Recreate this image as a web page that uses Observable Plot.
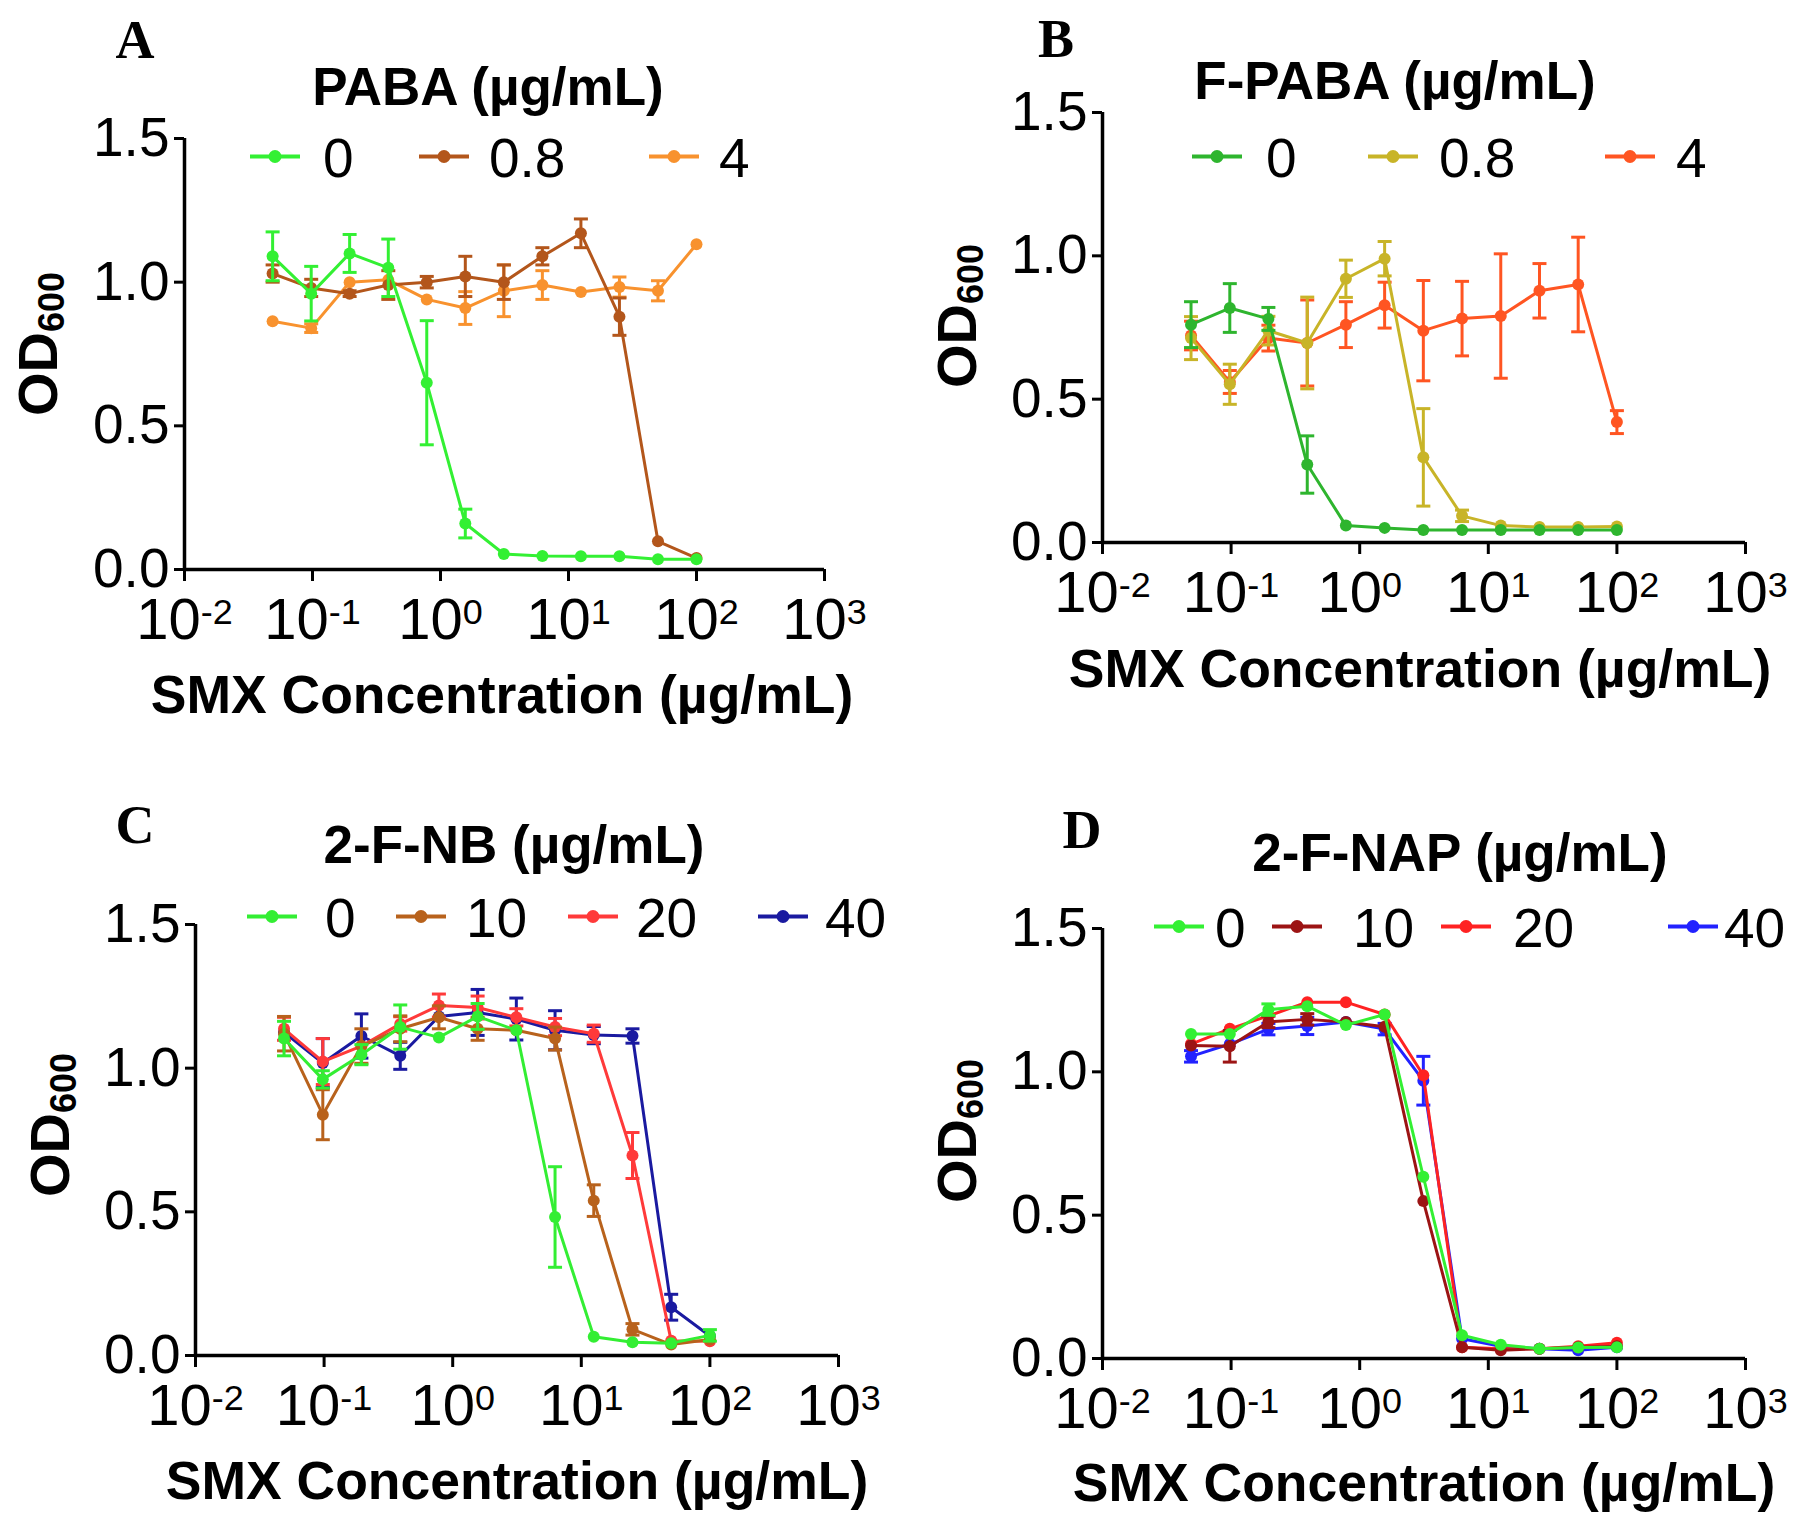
<!DOCTYPE html>
<html><head><meta charset="utf-8">
<script src="https://cdn.jsdelivr.net/npm/d3@7"></script>
<script src="https://cdn.jsdelivr.net/npm/@observablehq/plot@0.6"></script>
<style>
body{margin:0;background:#fff;}
#fig{position:relative;width:1800px;height:1529px;background:#fff;overflow:hidden;font-family:"Liberation Sans",Arial,sans-serif;color:#000;}
.abs{position:absolute;white-space:nowrap;line-height:1;}
.title{font-weight:bold;font-size:53px;transform:translate(-50%,-50%);}
.xlab{font-weight:bold;font-size:53.5px;transform:translate(-50%,-50%);}
.letter{font-family:"Liberation Serif","Times New Roman",serif;font-weight:bold;font-size:54px;transform:translate(-50%,-50%);}
.ylab{font-weight:bold;font-size:56px;transform:translate(-50%,-50%) rotate(-90deg);}
.ylab sub{font-size:36px;vertical-align:-0.2em;}
.legtext{font-size:55px;transform:translateY(-50%);}
.swatch{transform:translateY(-50%);}
</style></head><body><div id="fig"></div>
<script>
// SMX concentrations (µg/mL), two-fold dilutions
const smx = [0.0488, 0.0977, 0.195, 0.391, 0.781, 1.5625, 3.125, 6.25, 12.5, 25, 50, 100];

// Panel A: PABA (µg/mL)
const pabaLevels = ["0", "0.8", "4"];
const pabaColors = ["#33f033", "#b3561b", "#f8922e"];
const paba0 = [1.09, 0.96, 1.10, 1.05, 0.65, 0.16, 0.054, 0.047, 0.046, 0.046, 0.036, 0.036];
const paba0Err = [0.085, 0.095, 0.066, 0.10, 0.216, 0.05, 0, 0, 0, 0, 0, 0];
const paba08 = [1.03, 0.98, 0.96, 0.99, 1.0, 1.02, 1.0, 1.09, 1.17, 0.88, 0.098, 0.04];
const paba08Err = [0.03, 0.03, 0.01, 0.05, 0.02, 0.07, 0.06, 0.03, 0.05, 0.065, 0, 0];
const paba4 = [0.864, 0.84, 1.0, 1.008, 0.94, 0.91, 0.97, 0.99, 0.966, 0.983, 0.97, 1.132];
const paba4Err = [0, 0.015, 0, 0, 0, 0.057, 0.09, 0.05, 0, 0.035, 0.035, 0];

// Panel B: F-PABA (µg/mL)
const fpabaLevels = ["0", "0.8", "4"];
const fpabaColors = ["#2eb52e", "#c8b428", "#ff5522"];
const fpaba0 = [0.76, 0.818, 0.78, 0.272, 0.059, 0.051, 0.044, 0.044, 0.044, 0.044, 0.044, 0.044];
const fpaba0Err = [0.08, 0.085, 0.04, 0.10, 0, 0, 0, 0, 0, 0, 0, 0];
const fpaba08 = [0.713, 0.552, 0.739, 0.696, 0.92, 0.99, 0.297, 0.093, 0.059, 0.054, 0.054, 0.056];
const fpaba08Err = [0.075, 0.07, 0.05, 0.16, 0.065, 0.06, 0.17, 0.02, 0, 0, 0, 0];
const fpaba4 = [0.722, 0.56, 0.713, 0.696, 0.76, 0.828, 0.739, 0.781, 0.79, 0.878, 0.90, 0.42];
const fpaba4Err = [0.05, 0.04, 0.045, 0.15, 0.08, 0.08, 0.175, 0.13, 0.217, 0.095, 0.165, 0.04];

// Panel C: 2-F-NB (µg/mL)
const fnbLevels = ["0", "10", "20", "40"];
const fnbColors = ["#33ee33", "#b8621c", "#ff3a3a", "#1a1aa0"];
const fnb0 = [1.103, 0.961, 1.047, 1.143, 1.107, 1.18, 1.132, 0.482, 0.065, 0.046, 0.043, 0.07];
const fnb0Err = [0.06, 0.03, 0.035, 0.077, 0, 0.045, 0, 0.175, 0, 0, 0, 0.02];
const fnb10 = [1.12, 0.838, 1.077, 1.137, 1.177, 1.137, 1.132, 1.103, 0.539, 0.091, 0.038, 0.056];
const fnb10Err = [0.06, 0.087, 0.06, 0.045, 0.04, 0.04, 0, 0.04, 0.055, 0.02, 0, 0];
const fnb20 = [1.137, 1.023, 1.077, 1.154, 1.218, 1.211, 1.177, 1.143, 1.12, 0.696, 0.051, 0.05];
const fnb20Err = [0.04, 0.08, 0, 0.025, 0.04, 0.04, 0.03, 0.03, 0.03, 0.08, 0, 0];
const fnb40 = [1.125, 1.018, 1.112, 1.043, 1.18, 1.194, 1.171, 1.132, 1.115, 1.112, 0.168, 0.068];
const fnb40Err = [0, 0.085, 0.077, 0.047, 0, 0.08, 0.073, 0.068, 0.03, 0.025, 0.045, 0];

// Panel D: 2-F-NAP (µg/mL)
const fnapLevels = ["0", "10", "20", "40"];
const fnapColors = ["#33f033", "#9c1414", "#ff2222", "#2222ff"];
const fnap0 = [1.132, 1.132, 1.217, 1.229, 1.163, 1.2, 0.634, 0.081, 0.048, 0.034, 0.038, 0.039];
const fnap0Err = [0, 0, 0.02, 0, 0, 0, 0, 0, 0, 0, 0, 0];
const fnap10 = [1.092, 1.089, 1.174, 1.183, 1.174, 1.157, 0.549, 0.039, 0.029, 0.034, 0.039, 0.043];
const fnap10Err = [0, 0.055, 0.02, 0.02, 0, 0, 0, 0, 0, 0, 0, 0];
const fnap20 = [1.097, 1.15, 1.195, 1.243, 1.243, 1.2, 0.988, 0.039, 0.034, 0.034, 0.043, 0.055];
const fnap20Err = [0, 0, 0, 0, 0, 0, 0, 0, 0, 0, 0, 0];
const fnap40 = [1.054, 1.097, 1.149, 1.16, 1.174, 1.149, 0.969, 0.069, 0.043, 0.034, 0.029, 0.039];
const fnap40Err = [0.02, 0, 0.02, 0.03, 0, 0.02, 0.085, 0, 0, 0, 0, 0];

const xTicks = [0.01, 0.1, 1, 10, 100, 1000];
const yTicks = [0, 0.5, 1.0, 1.5];

const panels = [
  {letter: "A", title: "PABA (µg/mL)", levels: pabaLevels, colors: pabaColors,
   vals: [paba0, paba08, paba4], errs: [paba0Err, paba08Err, paba4Err],
   x0: 184, x1: 824, yTop: 138, yBot: 569,
   titlePos: [488, 86], letterPos: [135, 40], ylabPos: [40, 344], xlabPos: [502, 695],
   legendY: 158, legend: [[250, 323], [419, 489], [649, 719]]},
  {letter: "B", title: "F-PABA (µg/mL)", levels: fpabaLevels, colors: fpabaColors,
   vals: [fpaba0, fpaba08, fpaba4], errs: [fpaba0Err, fpaba08Err, fpaba4Err],
   x0: 1102, x1: 1745, yTop: 112, yBot: 542,
   titlePos: [1395, 80], letterPos: [1056, 39], ylabPos: [959, 316], xlabPos: [1420, 669],
   legendY: 158, legend: [[1192, 1266], [1368, 1439], [1605, 1676]]},
  {letter: "C", title: "2-F-NB (µg/mL)", levels: fnbLevels, colors: fnbColors,
   vals: [fnb0, fnb10, fnb20, fnb40], errs: [fnb0Err, fnb10Err, fnb20Err, fnb40Err],
   x0: 195, x1: 838, yTop: 924, yBot: 1355,
   titlePos: [514, 844], letterPos: [135, 825], ylabPos: [52, 1125], xlabPos: [517, 1481],
   legendY: 918, legend: [[247, 325], [396, 466], [568, 636], [758, 825]]},
  {letter: "D", title: "2-F-NAP (µg/mL)", levels: fnapLevels, colors: fnapColors,
   vals: [fnap0, fnap10, fnap20, fnap40], errs: [fnap0Err, fnap10Err, fnap20Err, fnap40Err],
   x0: 1102, x1: 1745, yTop: 928, yBot: 1358,
   titlePos: [1460, 852], letterPos: [1082, 830], ylabPos: [959, 1131], xlabPos: [1424, 1483],
   legendY: 928, legend: [[1154, 1215], [1272, 1353], [1441, 1513], [1668, 1724]]}
];

const capSymbol = {draw(ctx, size) { const r = Math.sqrt(size / Math.PI); ctx.moveTo(-r, 0); ctx.lineTo(r, 0); }};

const fig = document.getElementById("fig");
function addDiv(cls, html, x, y) {
  const d = document.createElement("div");
  d.className = "abs " + cls;
  d.innerHTML = html;
  d.style.left = x + "px";
  d.style.top = y + "px";
  fig.appendChild(d);
  return d;
}

const ml = 170, mr = 80, mt = 30, mb = 120;

for (const p of panels) {
  const marks = [];
  // draw later series first so the first series ends on top
  for (let k = p.levels.length - 1; k >= 0; k--) {
    const rows = smx.map((x, i) => ({x, y: p.vals[k][i], e: p.errs[k][i]}));
    const withErr = rows.filter(d => d.e > 0);
    const c = p.colors[k];
    marks.push(
      Plot.ruleX(withErr, {x: "x", y1: d => d.y - d.e, y2: d => d.y + d.e, stroke: c, strokeWidth: 3}),
      Plot.dot(withErr, {x: "x", y: d => d.y + d.e, symbol: capSymbol, r: 7, stroke: c, strokeWidth: 3, fill: "none"}),
      Plot.dot(withErr, {x: "x", y: d => d.y - d.e, symbol: capSymbol, r: 7, stroke: c, strokeWidth: 3, fill: "none"}),
      Plot.line(rows, {x: "x", y: "y", stroke: c, strokeWidth: 3}),
      Plot.dot(rows, {x: "x", y: "y", fill: c, r: 6})
    );
  }
  marks.push(
    Plot.ruleX([0.01], {stroke: "#000", strokeWidth: 3.5}),
    Plot.ruleY([0], {stroke: "#000", strokeWidth: 3.5}),
    Plot.axisX({ticks: xTicks, tickFormat: d => "10^" + Math.round(Math.log10(d)), tickSize: 12, tickPadding: 16, strokeWidth: 3, fontSize: 58, label: null}),
    Plot.axisY({ticks: yTicks, tickFormat: d3.format(".1f"), tickSize: 10, tickPadding: 5, strokeWidth: 3, fontSize: 55, label: null})
  );
  const w = p.x1 - p.x0, h = p.yBot - p.yTop;
  const svg = Plot.plot({
    width: ml + w + mr, height: mt + h + mb,
    marginLeft: ml, marginRight: mr, marginTop: mt, marginBottom: mb,
    x: {type: "log", domain: [0.01, 1000]},
    y: {domain: [0, 1.5]},
    style: {fontFamily: "'Liberation Sans', Arial, sans-serif", fontSize: "55px", background: "transparent", overflow: "visible", color: "#000"},
    marks
  });
  // superscript exponents on the x tick labels
  svg.querySelectorAll("text").forEach(t => {
    const s = t.textContent;
    if (/^10\^/.test(s)) {
      const ex = s.split("^")[1].replace("−", "-");
      t.textContent = "10";
      const ts = document.createElementNS("http://www.w3.org/2000/svg", "tspan");
      ts.setAttribute("dy", "-0.42em");
      ts.setAttribute("font-size", "0.62em");
      ts.textContent = ex;
      t.appendChild(ts);
    }
  });
  svg.style.position = "absolute";
  svg.style.left = (p.x0 - ml) + "px";
  svg.style.top = (p.yTop - mt) + "px";
  fig.appendChild(svg);

  addDiv("title", p.title, p.titlePos[0], p.titlePos[1]);
  addDiv("letter", p.letter, p.letterPos[0], p.letterPos[1]);
  addDiv("ylab", "OD<sub>600</sub>", p.ylabPos[0], p.ylabPos[1]);
  addDiv("xlab", "SMX Concentration (µg/mL)", p.xlabPos[0], p.xlabPos[1]);
  p.levels.forEach((lv, k) => {
    const [sx, tx] = p.legend[k];
    const c = p.colors[k];
    addDiv("swatch", `<svg width="50" height="16"><line x1="0" y1="8" x2="50" y2="8" stroke="${c}" stroke-width="4"/><circle cx="25" cy="8" r="6.5" fill="${c}"/></svg>`, sx, p.legendY);
    addDiv("legtext", lv, tx, p.legendY);
  });
}
</script></body></html>
